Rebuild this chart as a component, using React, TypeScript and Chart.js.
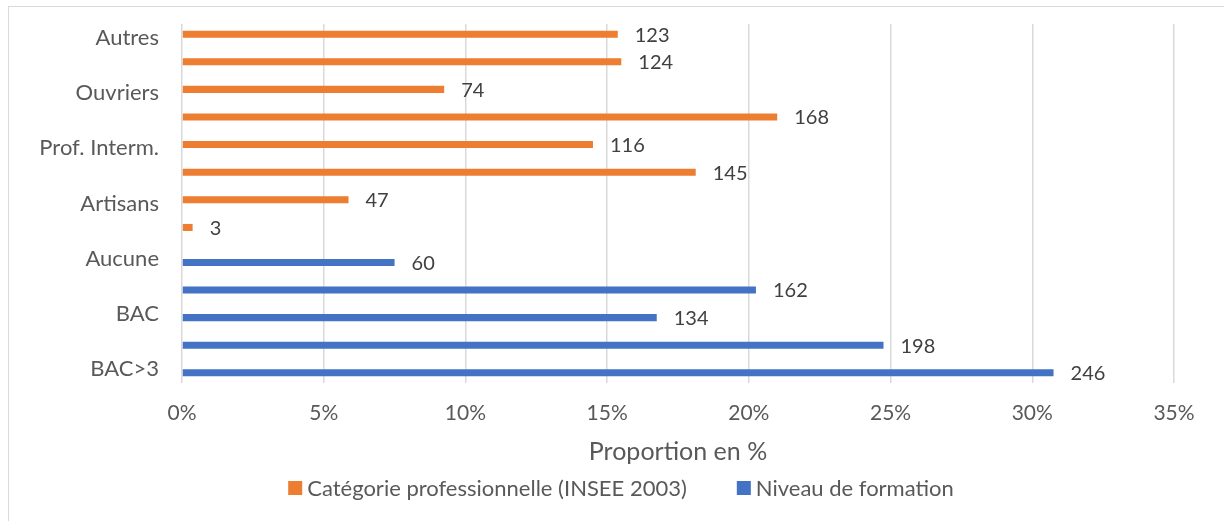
import React, { useEffect, useRef } from 'react';
import { Chart, registerables } from 'chart.js';

Chart.register(...registerables);

// Category axis (top to bottom); Excel skipped every other label
const categories = [
  'Autres', '', 'Ouvriers', '', 'Prof. Interm.', '', 'Artisans', '',
  'Aucune', '', 'BAC', '', 'BAC>3',
];

const seriesLabels = ['Catégorie professionnelle (INSEE 2003)', 'Niveau de formation'];
const seriesColors = ['#ED7D31', '#4472C4'];

// Counts shown as data labels
const proCounts = [123, 124, 74, 168, 116, 145, 47, 3, null, null, null, null, null];
const formCounts = [null, null, null, null, null, null, null, null, 60, 162, 134, 198, 246];

// Proportions in % (bar lengths)
const proPercent = [15.375, 15.5, 9.25, 21, 14.5, 18.125, 5.875, 0.375, null, null, null, null, null];
const formPercent = [null, null, null, null, null, null, null, null, 7.5, 20.25, 16.75, 24.75, 30.75];

const xMin = 0;
const xMax = 35;
const xStep = 5;
const xTitle = 'Proportion en %';

const FONT = 'Lato, "Noto Sans", sans-serif';
const TEXT = '#595959';
const countsBySeries = [proCounts, formCounts];

const countLabelsPlugin = {
  id: 'countLabels',
  afterDatasetsDraw(chart: any) {
    const ctx = chart.ctx;
    ctx.save();
    ctx.font = `20px ${FONT}`;
    ctx.fillStyle = '#404040';
    ctx.textAlign = 'left';
    ctx.textBaseline = 'middle';
    chart.data.datasets.forEach((_ds: any, di: number) => {
      const meta = chart.getDatasetMeta(di);
      const counts = countsBySeries[di];
      meta.data.forEach((el: any, i: number) => {
        const c = counts[i];
        if (c == null) return;
        ctx.fillText(String(c), el.x + 17, el.y + 1);
      });
    });
    ctx.restore();
  },
};

const customLegendPlugin = {
  id: 'customLegend',
  afterDraw(chart: any) {
    const ctx = chart.ctx;
    ctx.save();
    ctx.font = `22px ${FONT}`;
    ctx.textBaseline = 'middle';
    ctx.textAlign = 'left';
    const box = 14;
    const gap = 5;
    const spacing = 50;
    const items = chart.data.datasets.map((ds: any) => ({
      text: ds.label as string,
      color: ds.backgroundColor as string,
      w: box + gap + ctx.measureText(ds.label).width,
    }));
    const total = items.reduce((s: number, it: any) => s + it.w, 0) + spacing * (items.length - 1);
    let x = 621 - total / 2;
    const y = 488;
    items.forEach((it: any) => {
      ctx.fillStyle = it.color;
      ctx.fillRect(x, y - box / 2, box, box);
      ctx.fillStyle = TEXT;
      ctx.fillText(it.text, x + box + gap, y + 1);
      x += it.w + spacing;
    });
    ctx.restore();
  },
};

export default function App() {
  const canvasRef = useRef<HTMLCanvasElement | null>(null);

  useEffect(() => {
    if (!canvasRef.current) return;
    const chart = new Chart(canvasRef.current, {
      type: 'bar',
      data: {
        labels: categories,
        datasets: [
          {
            label: seriesLabels[0],
            data: proPercent,
            backgroundColor: seriesColors[0],
            categoryPercentage: 0.53,
            barPercentage: 0.96,
          },
          {
            label: seriesLabels[1],
            data: formPercent,
            backgroundColor: seriesColors[1],
            categoryPercentage: 0.53,
            barPercentage: 0.96,
          },
        ],
      },
      options: {
        indexAxis: 'y',
        responsive: false,
        animation: false,
        layout: { padding: { left: 0, right: 50, top: 24, bottom: 52 } },
        plugins: {
          legend: { display: false },
          tooltip: { enabled: false },
        },
        scales: {
          x: {
            min: xMin,
            max: xMax,
            ticks: {
              stepSize: xStep,
              padding: 18,
              color: TEXT,
              font: { family: FONT, size: 21 },
              callback: (v: any) => `${v}%`,
            },
            grid: { color: '#d9d9d9', lineWidth: 1.5, drawTicks: false },
            border: { display: false },
            title: {
              display: true,
              text: xTitle,
              color: TEXT,
              font: { family: FONT, size: 25 },
              padding: { top: 0, bottom: 2 },
            },
            afterFit: (scale: any) => {
              scale.height = 86;
              scale.paddingLeft = 0;
              scale.paddingRight = 0;
            },
          },
          y: {
            ticks: {
              padding: 23,
              color: TEXT,
              autoSkip: false,
              font: { family: FONT, size: 22 },
            },
            grid: { display: false, drawTicks: false },
            border: { display: false },
            afterFit: (scale: any) => {
              scale.width = 182;
              scale.paddingTop = 0;
              scale.paddingBottom = 0;
            },
          },
        },
      },
      plugins: [countLabelsPlugin, customLegendPlugin],
    });
    return () => chart.destroy();
  }, []);

  return (
    <div
      style={{
        position: 'fixed',
        left: 0,
        top: 0,
        width: 1224,
        height: 521,
        overflow: 'hidden',
        background: '#ffffff',
      }}
    >
      <div
        style={{
          position: 'absolute',
          left: 8,
          top: 6,
          width: 1300,
          height: 600,
          border: '1px solid #d9d9d9',
          boxSizing: 'border-box',
        }}
      />
      <canvas
        ref={canvasRef}
        width={1224}
        height={521}
        style={{ position: 'absolute', left: 0, top: 0 }}
      />
    </div>
  );
}
